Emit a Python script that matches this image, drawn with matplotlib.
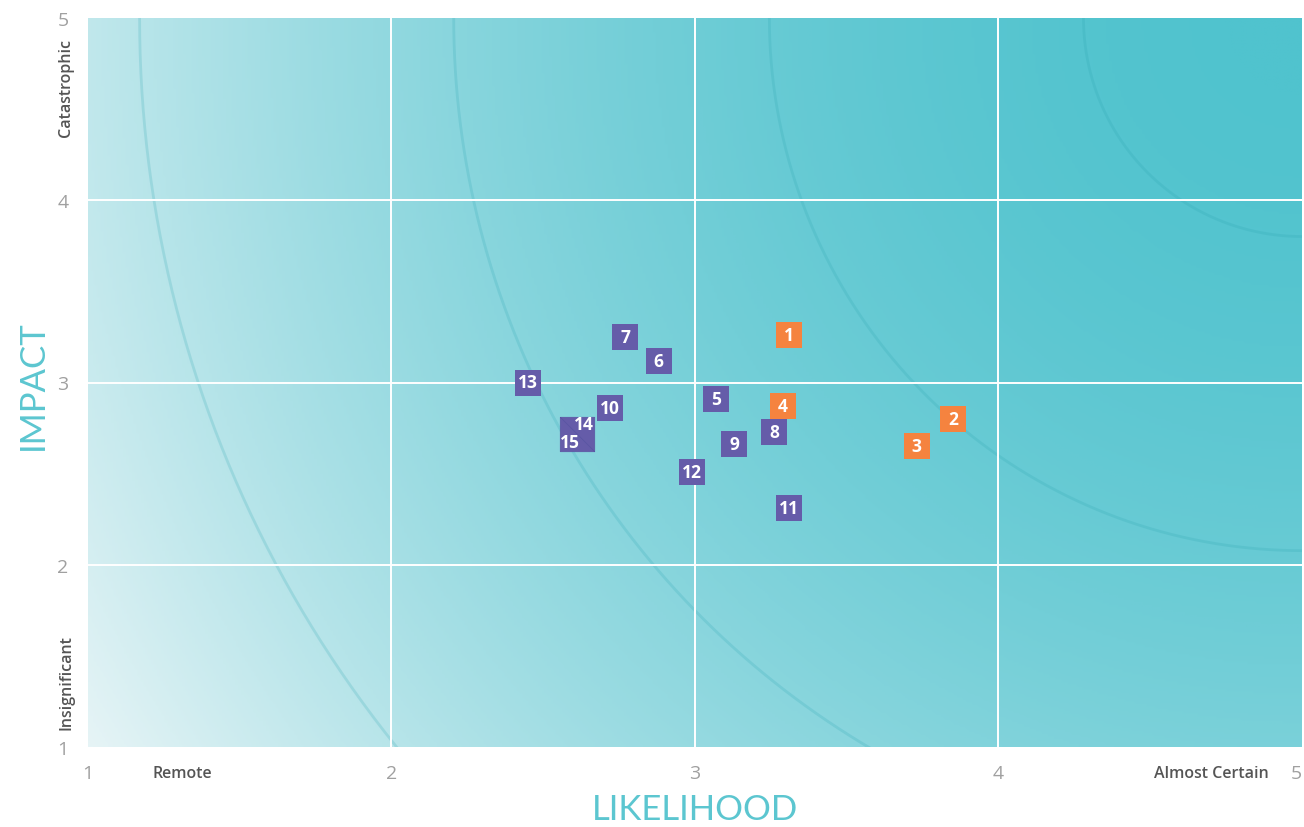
import numpy as np
import matplotlib
matplotlib.use("Agg")
import matplotlib.pyplot as plt
from matplotlib.colors import LinearSegmentedColormap
from matplotlib.path import Path

# risk register positions (likelihood, impact)
risk_ids = ["1", "2", "3", "4", "5", "6", "7", "8", "9", "10", "11", "12", "13", "14", "15"]
likelihood = [3.31, 3.85, 3.73, 3.29, 3.07, 2.88, 2.77, 3.26, 3.13, 2.72, 3.31, 2.99, 2.45, 2.61, 2.61]
impact = [3.26, 2.80, 2.65, 2.87, 2.91, 3.12, 3.25, 2.73, 2.66, 2.86, 2.31, 2.51, 3.00, 2.72, 2.72]
category = ["high", "high", "high", "high", "med", "med", "med", "med", "med", "med",
            "med", "med", "med", "med", "med"]

ticks = [1, 2, 3, 4, 5]
arc_radii = [0.72, 1.755, 2.795, 3.83]  # in likelihood units, circles in screen space

purple = "#655ca9"
orange = "#f5833f"
teal_txt = "#5cc6d0"

W, H = 1304, 828
fig = plt.figure(figsize=(W / 100, H / 100), dpi=100)
ax = fig.add_axes([88 / W, 80 / H, 1214 / W, 729 / H])
ax.set_xlim(1, 5)
ax.set_ylim(1, 5)

# background gradient, radial from top-right corner
px_x, px_y = 1214.0, 729.0
gx = np.linspace(0, 1, 400)
gy = np.linspace(0, 1, 300)
X, Y = np.meshgrid(gx, gy)
d = np.sqrt(((1 - X) * px_x) ** 2 + ((1 - Y) * px_y) ** 2) / np.hypot(px_x, px_y)
t = d ** 1.9
cmap = LinearSegmentedColormap.from_list("bg", ["#50c3ce", "#e6f4f6"])
ax.imshow(t, cmap=cmap, extent=[1, 5, 1, 5], origin="lower", aspect="auto",
          vmin=0, vmax=1, zorder=0, interpolation="bilinear")

# concentric arcs around (5, 5)
sx = px_x / 4.0
sy = px_y / 4.0
th = np.linspace(0, np.pi / 2, 300)
for r in arc_radii:
    rp = r * sx
    ax.plot(5 - rp * np.cos(th) / sx, 5 - rp * np.sin(th) / sy,
            color="#2aa3b0", alpha=0.2, lw=2.0, zorder=1)

for v in [2, 3, 4]:
    ax.axvline(v, color="white", lw=1.4, zorder=2)
    ax.axhline(v, color="white", lw=1.4, zorder=2)

for s in ax.spines.values():
    s.set_visible(False)
ax.set_xticks(ticks)
ax.set_yticks(ticks)
ax.tick_params(length=0, labelsize=14, labelcolor="#a0a0a0", pad=12)
ax.tick_params(axis="y", pad=14)
for lab in ax.get_xticklabels() + ax.get_yticklabels():
    lab.set_family("Open Sans")
ax.get_xticklabels()[-1].set_ha("right")

# custom half-square markers for the overlapping pair
upper = Path([(-1, 1), (1, 1), (1, -1), (-1, 1)])
lower = Path([(-1, 1), (-1, -1), (1, -1), (-1, 1)])

lab_kw = dict(color="white", fontsize=12.5, fontweight="bold", family="Open Sans",
              ha="center", va="center", zorder=4)
for rid, lx, im, cat in zip(risk_ids, likelihood, impact, category):
    col = orange if cat == "high" else purple
    if rid == "14":
        ax.scatter(lx, im, marker=upper, s=620, color=col, edgecolor="#5850a0", lw=0.4, zorder=3)
        ax.text(lx + 0.024, im + 0.05, rid, **lab_kw)
    elif rid == "15":
        ax.scatter(lx, im, marker=lower, s=620, color=col, edgecolor="#5850a0", lw=0.4, zorder=3)
        ax.text(lx - 0.022, im - 0.048, rid, **lab_kw)
    else:
        ax.scatter(lx, im, marker="s", s=330, color=col, lw=0, zorder=3)
        ax.text(lx, im, rid, **lab_kw)

# axis titles
fig.text(695 / W, 1 - 810 / H, "LIKELIHOOD", color=teal_txt, fontsize=25,
         family="Lato", fontweight="normal", ha="center", va="center")
fig.text(33 / W, 1 - 385 / H, "IMPACT", color=teal_txt, fontsize=25, rotation=90,
         family="Lato", fontweight="normal", ha="center", va="center")

# end-point descriptors
desc = dict(color="#555555", fontsize=11.5, family="Open Sans", fontweight="semibold",
            ha="center", va="center")
fig.text(66 / W, 1 - 88 / H, "Catastrophic", rotation=90, **desc)
fig.text(66 / W, 1 - 683 / H, "Insignificant", rotation=90, **desc)
fig.text(182 / W, 1 - 774 / H, "Remote", **desc)
fig.text(1211 / W, 1 - 774 / H, "Almost Certain", **desc)

fig.savefig("out.png", dpi=100)
